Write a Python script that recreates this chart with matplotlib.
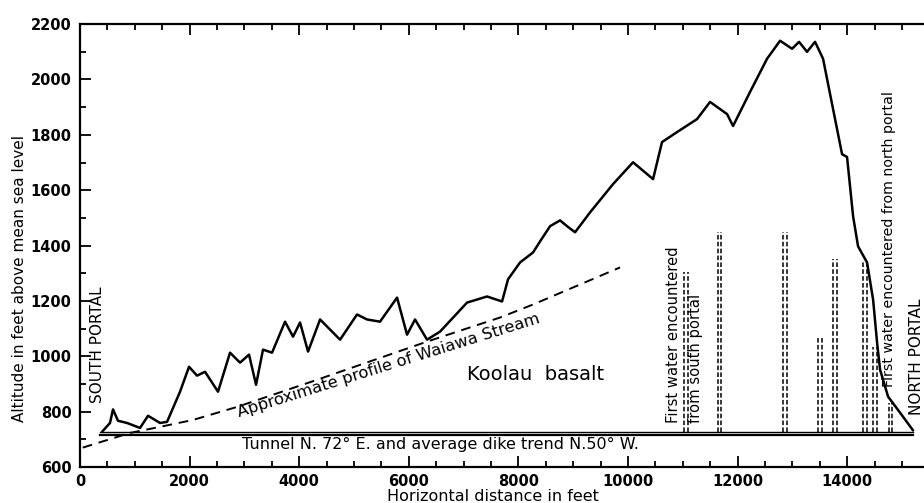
import matplotlib
matplotlib.use('Agg')
import matplotlib.pyplot as plt
import numpy as np

plt.rcParams.update({
    'font.family': 'DejaVu Sans',
    'font.size': 10,
})

# ground surface profile above the tunnel (feet, altitude in feet)
profile_x = [401, 547, 602, 693, 858, 1095, 1241, 1460, 1588, 1825, 1989, 2135,
             2281, 2518, 2737, 2920, 3084, 3212, 3339, 3504, 3741, 3887, 4015,
             4161, 4380, 4745, 5055, 5237, 5474, 5785, 5967, 6113, 6332, 6569,
             7062, 7427, 7701, 7810, 8029, 8266, 8394, 8577, 8759, 8887, 9033,
             9307, 9726, 10091, 10456, 10620, 10894, 11259, 11496, 11807, 11916,
             12226, 12536, 12774, 12993, 13120, 13266, 13412, 13558, 13741, 13905,
             13996, 14106, 14197, 14361, 14471, 14544, 14599, 14745, 14964, 15201]
profile_alt = [727, 759, 808, 767, 759, 741, 785, 759, 763, 872, 962, 930,
               944, 872, 1013, 977, 1006, 897, 1024, 1013, 1125, 1071, 1122,
               1017, 1133, 1060, 1151, 1133, 1125, 1212, 1078, 1133, 1060, 1089,
               1194, 1216, 1198, 1278, 1339, 1375, 1415, 1470, 1491, 1470, 1448,
               1520, 1622, 1701, 1640, 1774, 1810, 1857, 1919, 1875, 1832,
               1955, 2075, 2140, 2111, 2136, 2100, 2136, 2075, 1893, 1730,
               1720, 1506, 1397, 1339, 1205, 1049, 951, 854, 796, 732]

# approximate profile of Waiawa Stream
stream_x = [50, 912, 1460, 2062, 2865, 4325, 6332, 7664, 8266, 9854]
stream_alt = [670, 723, 745, 770, 817, 915, 1053, 1140, 1187, 1321]

# tunnel (double line)
tunnel_x = [370, 15200]
tunnel_alt = [728, 716]

# dikes: position and top altitude
dike_x = [11060, 11670, 12870, 13500, 13770, 14330, 14510, 14790]
dike_top = [1303, 1448, 1448, 1071, 1350, 1339, 1035, 832]

fig = plt.figure(figsize=(9.24, 5.03), dpi=100)
ax = fig.add_axes([0.0866, 0.0716, 0.9134, 0.8804])

ax.plot(profile_x, profile_alt, color='black', lw=1.8,
        solid_joinstyle='round', solid_capstyle='round')
ax.plot(stream_x, stream_alt, color='black', lw=1.4, dashes=(5, 3.5))
ax.plot(tunnel_x, [tunnel_alt[0]] * 2, color='black', lw=1.0)
ax.plot(tunnel_x, [tunnel_alt[1]] * 2, color='black', lw=1.6)

for x, top in zip(dike_x, dike_top):
    for off in (-35, 35):
        ax.plot([x + off, x + off], [tunnel_alt[0], top], color='black',
                lw=1.1, dashes=(3, 1.5))

ax.set_xlim(0, 15400)
ax.set_ylim(600, 2200)
ax.spines['right'].set_visible(False)
for s in ('left', 'bottom', 'top'):
    ax.spines[s].set_linewidth(1.6)

ax.set_xticks(np.arange(0, 15001, 2000))
ax.set_xticks(np.arange(0, 15001, 500), minor=True)
ax.set_yticks(np.arange(600, 2201, 200))
ax.set_yticks(np.arange(600, 2201, 100), minor=True)
ax.tick_params(which='both', direction='in', top=True, right=False, width=1.3)
ax.tick_params(which='major', length=8)
ax.tick_params(which='minor', length=4)
ax.tick_params(axis='x', pad=5)
ax.tick_params(axis='y', pad=6)
for lab in ax.get_xticklabels() + ax.get_yticklabels():
    lab.set_fontweight('bold')
    lab.set_fontsize(10.5)

fig.text(0.534, 0.012, 'Horizontal distance in feet', fontsize=11.5,
         ha='center', va='center')
fig.text(0.021, 0.447, 'Altitude in feet above mean sea level', fontsize=11,
         rotation=90, ha='center', va='center')

ax.text(8321, 933, 'Koolau  basalt', fontsize=14, ha='center', va='center')
ax.text(2900, 780, 'Approximate profile of Waiawa Stream', fontsize=11.8,
        rotation=17.4, rotation_mode='anchor', ha='left', va='baseline')
ax.text(6570, 680, 'Tunnel N. 72° E. and average dike trend N.50° W.',
        fontsize=11.5, ha='center', va='center')
ax.text(310, 1042, 'SOUTH PORTAL', rotation=90, ha='center', va='center',
        fontsize=11)
ax.text(15270, 998, 'NORTH PORTAL', rotation=90, ha='center', va='center',
        fontsize=11)
ax.text(10821, 759, 'First water encountered', rotation=90, ha='left',
        va='center', rotation_mode='anchor', fontsize=10.6)
ax.text(11223, 759, 'from south portal', rotation=90, ha='left',
        va='center', rotation_mode='anchor', fontsize=10.6)
ax.text(14763, 890, 'First water encountered from north portal', rotation=90,
        ha='left', va='center', rotation_mode='anchor', fontsize=10.2)

fig.savefig('out.png', dpi=100)
